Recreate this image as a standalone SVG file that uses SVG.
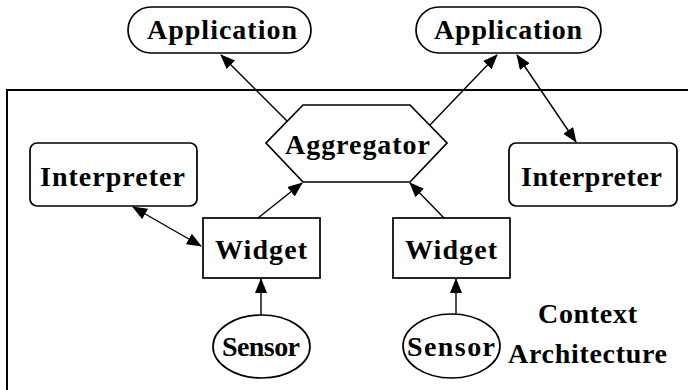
<svg xmlns="http://www.w3.org/2000/svg" width="688" height="390" viewBox="0 0 688 390">
<style>
.shape{fill:#fff;stroke:#000;stroke-width:1.7}
.lbl{font-family:"Liberation Serif","Times New Roman",serif;font-weight:bold;font-size:28px;fill:#000;text-anchor:start}
.con{stroke:#000;stroke-width:1.4;fill:none}
</style>
<defs>
<marker id="ah" markerWidth="15" markerHeight="12" refX="14" refY="6" orient="auto-start-reverse" markerUnits="userSpaceOnUse">
<path d="M0,0 L15,6 L0,12 z" fill="#000"/>
</marker>
</defs>
<rect id="container" x="7" y="90" width="700" height="320" fill="none" stroke="#000" stroke-width="2"/>
<g id="connectors">
<line class="con" x1="288" y1="122" x2="221" y2="55" marker-end="url(#ah)"/>
<line class="con" x1="430" y1="125" x2="497" y2="55" marker-end="url(#ah)"/>
<line class="con" x1="517" y1="55" x2="576" y2="142" marker-start="url(#ah)" marker-end="url(#ah)"/>
<line class="con" x1="133" y1="207" x2="201" y2="246" marker-start="url(#ah)" marker-end="url(#ah)"/>
<line class="con" x1="258" y1="218" x2="302" y2="183" marker-end="url(#ah)"/>
<line class="con" x1="444" y1="218" x2="410" y2="183" marker-end="url(#ah)"/>
<line class="con" x1="261" y1="315" x2="261" y2="279" marker-end="url(#ah)"/>
<line class="con" x1="456" y1="314" x2="456" y2="279" marker-end="url(#ah)"/>
</g>
<g id="app1">
<rect class="shape" x="128" y="7" width="183" height="46" rx="23" ry="23"/>
<text class="lbl" x="147" y="39" font-size="27" textLength="150" lengthAdjust="spacing">Application</text>
</g>
<g id="app2">
<rect class="shape" x="416" y="7" width="185" height="46" rx="23" ry="23"/>
<text class="lbl" x="434" y="39" font-size="27" textLength="148" lengthAdjust="spacing">Application</text>
</g>
<g id="aggregator">
<polygon class="shape" points="303,105 410,105 447,143 410,182 303,182 266,143"/>
<text class="lbl" x="285" y="154" textLength="145" lengthAdjust="spacing">Aggregator</text>
</g>
<g id="interp1">
<rect class="shape" x="30" y="143" width="167" height="63" rx="7" ry="7"/>
<text class="lbl" x="40" y="186" font-size="29" textLength="145" lengthAdjust="spacing">Interpreter</text>
</g>
<g id="interp2">
<rect class="shape" x="509" y="143" width="168" height="63" rx="7" ry="7"/>
<text class="lbl" x="521" y="186" font-size="29" textLength="141" lengthAdjust="spacing">Interpreter</text>
</g>
<g id="widget1">
<rect class="shape" x="203" y="218" width="117" height="60"/>
<text class="lbl" x="215" y="259" textLength="92" lengthAdjust="spacing">Widget</text>
</g>
<g id="widget2">
<rect class="shape" x="393" y="218" width="117" height="60"/>
<text class="lbl" x="405" y="259" textLength="92" lengthAdjust="spacing">Widget</text>
</g>
<g id="sensor1">
<ellipse class="shape" cx="261.5" cy="346.5" rx="48.5" ry="31.5"/>
<text class="lbl" x="222" y="356" font-size="25" textLength="78" lengthAdjust="spacing">Sensor</text>
</g>
<g id="sensor2">
<ellipse class="shape" cx="451.5" cy="346" rx="48.5" ry="32"/>
<text class="lbl" x="407" y="356" font-size="25" textLength="88" lengthAdjust="spacing">Sensor</text>
</g>
<g id="caption">
<text class="lbl" x="538" y="323" font-size="26" textLength="99" lengthAdjust="spacing">Context</text>
<text class="lbl" x="508" y="363" font-size="26" textLength="159" lengthAdjust="spacing">Architecture</text>
</g>
</svg>
